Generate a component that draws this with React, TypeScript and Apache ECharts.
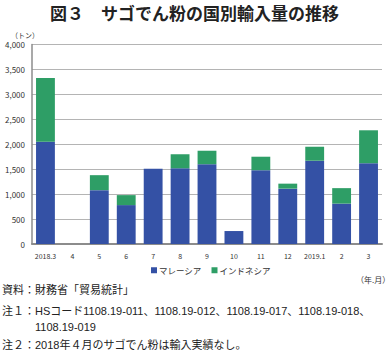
import React, { useEffect, useRef } from "react";
import * as echarts from "echarts";

const categories = ["2018.3", "4", "5", "6", "7", "8", "9", "10", "11", "12", "2019.1", "2", "3"];
const malaysia = [2050, 0, 1080, 780, 1510, 1520, 1600, 260, 1480, 1110, 1670, 810, 1620];
const indonesia = [1280, 0, 300, 200, 0, 280, 270, 0, 270, 100, 280, 310, 660];
const yTicks = [0, 500, 1000, 1500, 2000, 2500, 3000, 3500, 4000];
const seriesNames = ["マレーシア", "インドネシア"];
const titleText = "図３　サゴでん粉の国別輸入量の推移";
const notes = [
  "資料：財務省「貿易統計」",
  "注１：HSコード1108.19-011、1108.19-012、1108.19-017、1108.19-018、",
  "　　　1108.19-019",
  "注２：2018年４月のサゴでん粉は輸入実績なし。",
];

const FONT = "'Noto Sans CJK JP', 'Noto Sans', sans-serif";
const NOTE_FONT = "'Liberation Sans', 'Noto Sans CJK JP', sans-serif";

export default function App() {
  const ref = useRef<HTMLDivElement>(null);
  useEffect(() => {
    if (!ref.current) return;
    const chart = echarts.init(ref.current, undefined, { renderer: "svg" });
    chart.setOption({
      animation: false,
      backgroundColor: "#fff",
      textStyle: { fontFamily: FONT },
      grid: { left: 32, right: 7, top: 44.5, bottom: 108, containLabel: false },
      legend: {
        data: seriesNames,
        left: 146,
        top: 261,
        itemWidth: 6,
        itemHeight: 6,
        itemGap: 10,
        icon: "rect",
        textStyle: { fontSize: 8.5, color: "#333", padding: [0, 0, 0, -3] },
      },
      xAxis: {
        type: "category",
        data: categories,
        axisLine: { lineStyle: { color: "#8c8c8c", width: 2 } },
        axisTick: { show: false },
        axisLabel: { fontSize: 7, color: "#333", margin: 8, interval: 0 },
      },
      yAxis: {
        type: "value",
        min: yTicks[0],
        max: yTicks[yTicks.length - 1],
        interval: 500,
        axisLine: { show: true, lineStyle: { color: "#8c8c8c", width: 1.5 } },
        axisTick: { show: false },
        splitLine: { lineStyle: { color: "#b4b4b4", width: 1 } },
        axisLabel: {
          fontSize: 8,
          color: "#333",
          margin: 7,
          formatter: (v: number) => v.toLocaleString("en-US"),
        },
      },
      series: [
        {
          name: seriesNames[0],
          type: "bar",
          stack: "total",
          data: malaysia,
          barWidth: "70%",
          itemStyle: { color: "#3451a5" },
        },
        {
          name: seriesNames[1],
          type: "bar",
          stack: "total",
          data: indonesia,
          barWidth: "70%",
          itemStyle: { color: "#2e9e66" },
        },
      ],
      graphic: [
        {
          type: "text",
          left: "center",
          top: 4,
          style: { text: titleText, font: `bold 17px ${FONT}`, fill: "#222" },
        },
        {
          type: "text",
          left: 11,
          top: 31,
          style: { text: "（トン）", font: `7px ${FONT}`, fill: "#333" },
        },
        {
          type: "text",
          left: 356,
          top: 275,
          style: { text: "（年.月）", font: `8px ${FONT}`, fill: "#333" },
        },
        ...notes.map((t, i) => ({
          type: "text",
          left: 2,
          top: [284, 305, 321, 339][i],
          style: { text: t, font: `11px ${NOTE_FONT}`, fill: "#222" },
        })),
      ],
    });
    return () => chart.dispose();
  }, []);
  return <div ref={ref} style={{ width: 389, height: 352, position: "absolute", left: 0, top: 0 }} />;
}
